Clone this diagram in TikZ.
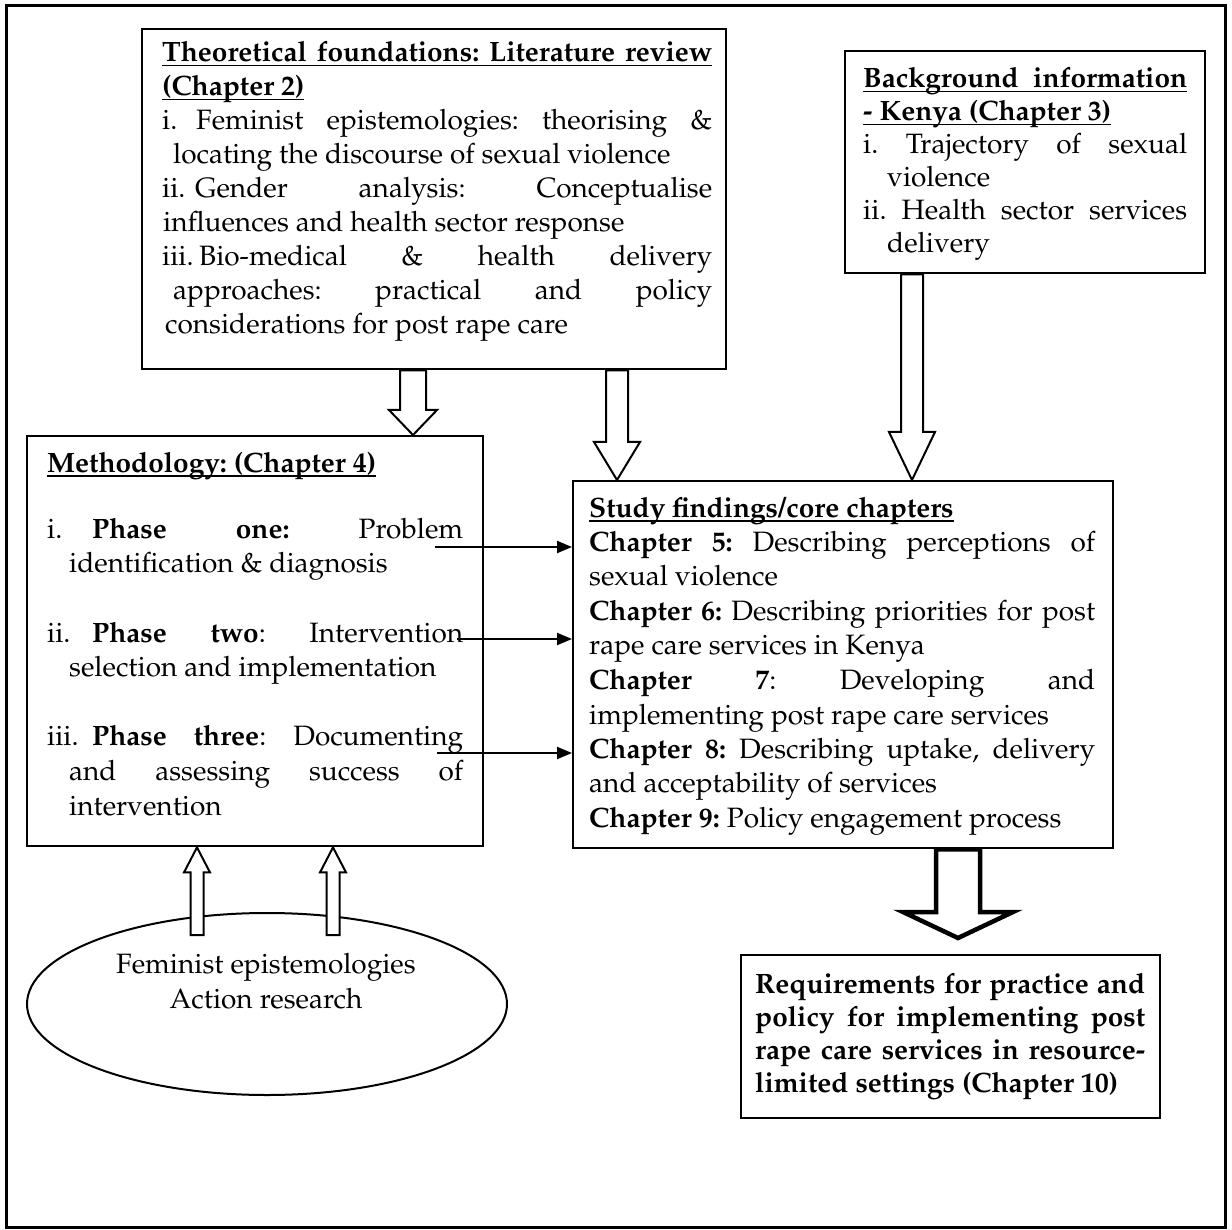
\documentclass[tikz,border=0pt]{standalone}
\usepackage[T1]{fontenc}
\renewcommand{\rmdefault}{ppl}
\usetikzlibrary{calc,arrows.meta,shapes.geometric}

% underline with a fixed offset below the baseline
\newsavebox\ulbox
\newcommand\ul[1]{\leavevmode\sbox\ulbox{#1}\rlap{\rule[-4.5pt]{\wd\ulbox}{1.8pt}}\usebox\ulbox}
% stretchable word space for spread lines
\newcommand\spreadspace{\spaceskip=.25em plus 20em minus .05em\relax\xspaceskip=\spaceskip}
% a line spread to the full text width
\newcommand\jl[1]{{\spreadspace\makebox[\linewidth][s]{#1}}}
% an indented line spread to the full text width
\newcommand\jli[2]{\leavevmode\hspace*{#1}{\spreadspace\makebox[\dimexpr\linewidth-#1\relax][s]{#2}}}
% vertical block arrow: [style]{from}{to}{shaft half width}{head half width}{signed head length}
\newcommand\blockarrow[6][hollow]{%
  \draw[#1] ($(#2)+(-#4,0)$) -- ($(#3)+(-#4,#6)$) -- ($(#3)+(-#5,#6)$) -- (#3)
    -- ($(#3)+(#5,#6)$) -- ($(#3)+(#4,#6)$) -- ($(#2)+(#4,0)$) -- cycle;}
\newcommand\txtfont[1]{\fontsize{28}{#1}\selectfont\frenchspacing}

\tikzset{
  box/.style={draw, line width=2.4pt, inner sep=0pt, anchor=north west},
  txt/.style={inner sep=0pt, anchor=base west,
    execute at begin node={\spaceskip=0pt\xspaceskip=0pt}},
  label/.style={inner sep=0pt, anchor=base, font=\txtfont{35}},
  hollow/.style={draw, fill=white, line width=2pt, line join=miter},
  heavy/.style={draw, fill=white, line width=4.5pt, line join=miter},
  link/.style={line width=2pt, -{Triangle[length=15pt,width=12pt]}},
}

\begin{document}
\begin{tikzpicture}[x=1pt,y=-1pt]
\fill[white] (0,0) rectangle (1232,1230);
\useasboundingbox (0,0) rectangle (1232,1230);

% outer frame
\draw[line width=3pt] (6,6) rectangle (1225,1227);

% boxes
\node[box, minimum width=584pt, minimum height=340pt] (theo) at (141,28) {};
\node[box, minimum width=360pt, minimum height=222pt] (back) at (844,50) {};
\node[box, minimum width=456pt, minimum height=410pt] (meth) at (26,435) {};
\node[box, minimum width=540pt, minimum height=367pt] (study) at (572,480) {};
\node[box, minimum width=419pt, minimum height=163pt] (req) at (740,954) {};
\node[draw, line width=2pt, ellipse, minimum width=480pt, minimum height=182pt] (ell) at (267,1004) {};

% theoretical foundations
\node[txt, text width=550pt, font=\txtfont{34}] (theoT) at (162,62) {%
\ul{\jl{\textbf{Theoretical foundations: Literature review}}}\\
\ul{\textbf{(Chapter 2)}}\\
\jl{\makebox[34pt][l]{i.}Feminist epistemologies: theorising \&}\\
\hspace*{11pt}locating the discourse of sexual violence\\
\jl{\makebox[33pt][l]{ii.}Gender analysis: Conceptualise}\\
\hspace*{1pt}influences and health sector response\\
\jl{\makebox[37pt][l]{iii.}Bio-medical \& health delivery}\\
\jli{11pt}{approaches: practical and policy}\\
\hspace*{3pt}considerations for post rape care};

% background information
\node[txt, text width=324pt, font=\txtfont{33}] (backT) at (863,88) {%
\ul{\jl{\textbf{Background information}}}\\
\ul{\textbf{- Kenya (Chapter 3)}}\\
\jl{i. Trajectory of sexual}\\
\hspace*{24pt}violence\\
\jl{ii. Health sector services}\\
\hspace*{24pt}delivery};

% methodology
\node[txt, text width=416pt, font=\txtfont{34}] (methH) at (47,472) {%
\ul{\textbf{Methodology: (Chapter 4)}}};
\node[txt, text width=416pt, font=\txtfont{34}] (m1) at (47,538) {%
\jl{\makebox[45pt][l]{i.}\textbf{Phase one:} Problem}\\
\hspace*{22pt}identification \& diagnosis};
\node[txt, text width=416pt, font=\txtfont{34}] (m2) at (47,642) {%
\jl{\makebox[45pt][l]{ii.}\textbf{Phase two}: Intervention}\\
\hspace*{22pt}selection and implementation};
\node[txt, text width=416pt, font=\txtfont{35}] (m3) at (47,745) {%
\jl{\makebox[45pt][l]{iii.}\textbf{Phase three}: Documenting}\\
\jli{22pt}{and assessing success of}\\
\hspace*{22pt}intervention};

% study findings
\node[txt, text width=506pt, font=\txtfont{34.5}] (studyT) at (589,517) {%
\ul{\textbf{Study findings/core chapters}}\\
\jl{\textbf{Chapter 5:} Describing perceptions of}\\
sexual violence\\
\jl{\textbf{Chapter 6:} Describing priorities for post}\\
rape care services in Kenya\\
\jl{\textbf{Chapter 7}: Developing and}\\
implementing post rape care services\\
\jl{\textbf{Chapter 8:} Describing uptake, delivery}\\
and acceptability of services\\
\textbf{Chapter 9:} Policy engagement process};

% requirements
\node[txt, text width=390pt, font=\txtfont{33.3}\bfseries] (reqT) at (755,993) {%
\jl{Requirements for practice and}\\
\jl{policy for implementing post}\\
\jl{rape care services in resource-}\\
limited settings (Chapter 10)};

% ellipse label
\node[label] (ellT1) at (266,973) {Feminist epistemologies};
\node[label] (ellT2) at (266,1008) {Action research};

% block arrows
\coordinate (a1s) at (413,0 |- theo.south);
\coordinate (a1e) at (413,0 |- meth.north);
\coordinate (a2s) at (617,0 |- theo.south);
\coordinate (a2e) at (617,0 |- study.north);
\coordinate (a3s) at (912,0 |- back.south);
\coordinate (a3e) at (912,0 |- study.north);
\coordinate (a4s) at (958,0 |- study.south);
\coordinate (a4e) at (958,938);
\coordinate (a5s) at (197,935);
\coordinate (a5e) at (197,0 |- meth.south);
\coordinate (a6s) at (333,935);
\coordinate (a6e) at (333,0 |- meth.south);

\blockarrow{a1s}{a1e}{13}{24}{-25}
\blockarrow{a2s}{a2e}{11}{23}{-38}
\blockarrow{a3s}{a3e}{11}{23}{-48}
\blockarrow[heavy]{a4s}{a4e}{22}{55}{-26}
\blockarrow{a5s}{a5e}{6.5}{13}{25}
\blockarrow{a6s}{a6e}{6.5}{13}{25}

% phase links
\coordinate (p1) at (435,547);
\coordinate (p2) at (457,639);
\coordinate (p3) at (437,753);
\draw[link] (p1) -- (p1 -| study.west);
\draw[link] (p2) -- (p2 -| study.west);
\draw[link] (p3) -- (p3 -| study.west);
\end{tikzpicture}
\end{document}
